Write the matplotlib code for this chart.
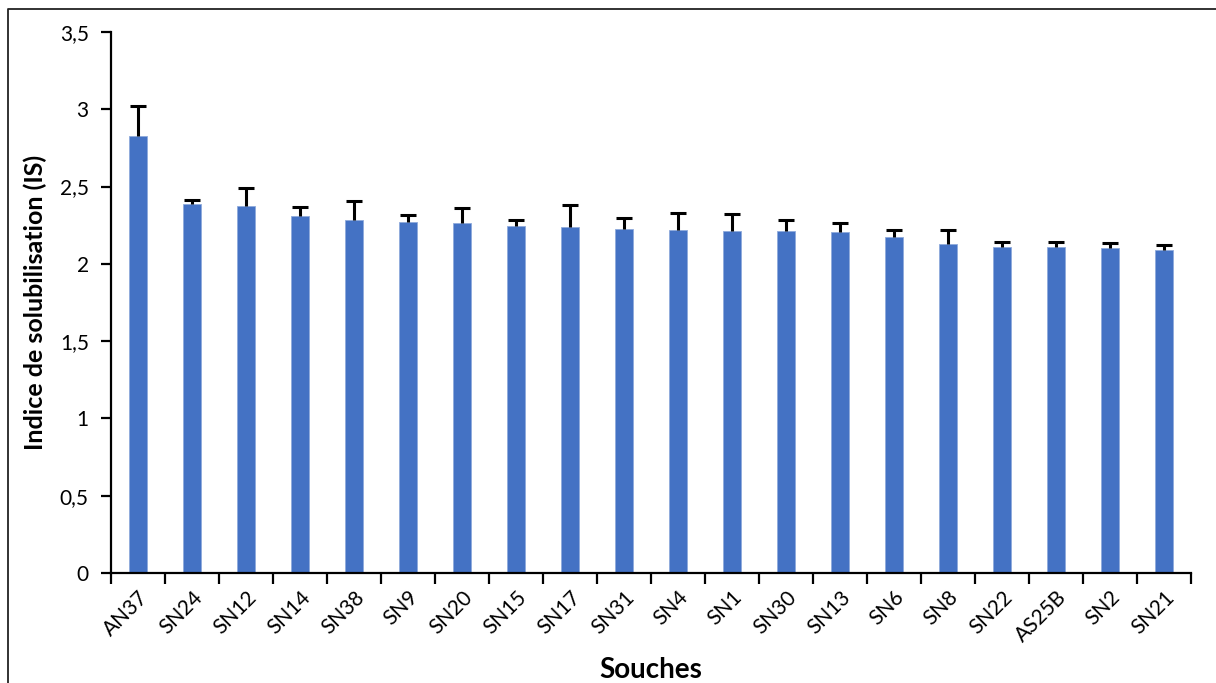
import matplotlib
matplotlib.use("Agg")
import matplotlib.pyplot as plt
from matplotlib.lines import Line2D
from matplotlib.ticker import FixedLocator, FuncFormatter
import numpy as np

souches = ["AN37", "SN24", "SN12", "SN14", "SN38", "SN9", "SN20", "SN15", "SN17", "SN31",
           "SN4", "SN1", "SN30", "SN13", "SN6", "SN8", "SN22", "AS25B", "SN2", "SN21"]
indice = [2.83, 2.385, 2.374, 2.308, 2.282, 2.271, 2.262, 2.245, 2.236, 2.224,
          2.219, 2.213, 2.213, 2.204, 2.174, 2.128, 2.107, 2.107, 2.103, 2.092]
ecart = [0.19, 0.028, 0.115, 0.06, 0.123, 0.043, 0.10, 0.039, 0.147, 0.071,
         0.108, 0.11, 0.071, 0.058, 0.045, 0.091, 0.036, 0.036, 0.03, 0.03]
y_ticks = [0, 0.5, 1, 1.5, 2, 2.5, 3, 3.5]

plt.rcParams["font.family"] = ["Lato", "DejaVu Sans"]

W, H = 1216, 683
fig = plt.figure(figsize=(W / 100, H / 100), dpi=100)
ax = fig.add_axes([111 / W, 1 - 573 / H, (1191 - 111) / W, (573 - 32) / H])

x = np.arange(len(souches))
ax.bar(x, indice, width=0.32, color="#4472C4", edgecolor="#8FAADC", linewidth=0.6, zorder=2)
eb = ax.errorbar(x, indice, yerr=[np.zeros(len(ecart)), ecart], fmt="none",
                 ecolor="black", elinewidth=2.2, capsize=6, capthick=2.2, zorder=3)
# only the upper half of each error bar is shown
eb[1][0].set_visible(False)

ax.set_xlim(-0.5, len(souches) - 0.5)
ax.set_ylim(0, 3.5)
ax.yaxis.set_major_locator(FixedLocator(y_ticks))
ax.yaxis.set_major_formatter(FuncFormatter(lambda v, p: f"{v:g}".replace(".", ",")))

# category boundaries carry the tick marks, labels sit under each bar
ax.set_xticks(np.arange(len(souches) + 1) - 0.5)
ax.set_xticklabels([])
ax.set_xticks(x, minor=True)
ax.set_xticklabels(souches, minor=True, rotation=45, ha="right", va="top",
                   rotation_mode="anchor", fontsize=15)
ax.tick_params(axis="x", which="minor", length=0, pad=10)
ax.tick_params(axis="x", which="major", length=8, width=1.6, direction="out", color="black")
ax.tick_params(axis="y", length=7, width=1.6, direction="out", labelsize=15, pad=9)

for s in ["top", "right"]:
    ax.spines[s].set_visible(False)
for s in ["left", "bottom"]:
    ax.spines[s].set_linewidth(1.6)
    ax.spines[s].set_color("black")

ax.set_ylabel("Indice de solubilisation (IS)", fontsize=18, fontweight="bold")
ax.set_xlabel("Souches", fontsize=20, fontweight="bold")
ax.xaxis.set_label_coords(0.5, -0.155)
ax.yaxis.set_label_coords(-0.059, 0.5)

# chart frame
fig.add_artist(Line2D([8 / W, 8 / W, 1], [0, 1 - 9 / H, 1 - 9 / H],
                      transform=fig.transFigure, color="#222222", linewidth=1.3))

fig.savefig("out.png", dpi=100)
